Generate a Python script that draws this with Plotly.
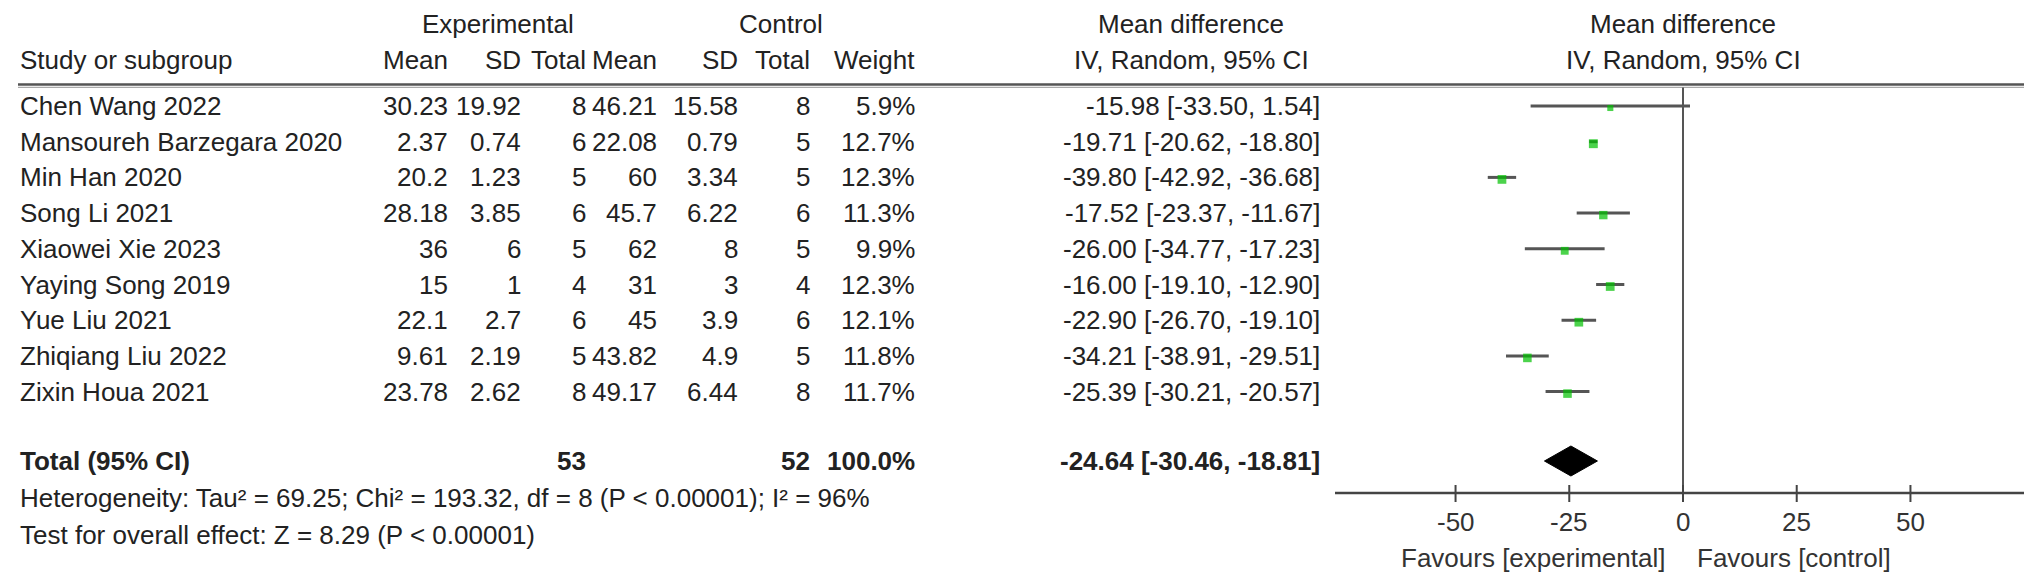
import math
import plotly.graph_objects as go

# ---------------- data ----------------
studies = ["Chen Wang 2022", "Mansoureh Barzegara 2020", "Min Han 2020", "Song Li 2021",
           "Xiaowei Xie 2023", "Yaying Song 2019", "Yue Liu 2021", "Zhiqiang Liu 2022",
           "Zixin Houa 2021"]
exp_mean = [30.23, 2.37, 20.2, 28.18, 36, 15, 22.1, 9.61, 23.78]
exp_sd = [19.92, 0.74, 1.23, 3.85, 6, 1, 2.7, 2.19, 2.62]
exp_n = [8, 6, 5, 6, 5, 4, 6, 5, 8]
ctrl_mean = [46.21, 22.08, 60, 45.7, 62, 31, 45, 43.82, 49.17]
ctrl_sd = [15.58, 0.79, 3.34, 6.22, 8, 3, 3.9, 4.9, 6.44]
ctrl_n = [8, 5, 5, 6, 5, 4, 6, 5, 8]
weight = [5.9, 12.7, 12.3, 11.3, 9.9, 12.3, 12.1, 11.8, 11.7]
md = [-15.98, -19.71, -39.80, -17.52, -26.00, -16.00, -22.90, -34.21, -25.39]
ci_lo = [-33.50, -20.62, -42.92, -23.37, -34.77, -19.10, -26.70, -38.91, -30.21]
ci_hi = [1.54, -18.80, -36.68, -11.67, -17.23, -12.90, -19.10, -29.51, -20.57]

total_exp_n = 53
total_ctrl_n = 52
total_weight = 100.0
total_md = -24.64
total_lo = -30.46
total_hi = -18.81

heterogeneity = "Heterogeneity: Tau² = 69.25; Chi² = 193.32, df = 8 (P < 0.00001); I² = 96%"
overall = "Test for overall effect: Z = 8.29 (P < 0.00001)"
tick_vals = [-50, -25, 0, 25, 50]
favours_left = "Favours [experimental]"
favours_right = "Favours [control]"

# ---------------- layout constants ----------------
W, H = 2032, 581
FONT = "Liberation Sans, Arial, Helvetica, sans-serif"
FS = 26
TXT = "#222222"
LINE = "#555555"
GREEN = "#00c000"

row_y0, row_dy = 98, 35.7
row_y = [row_y0 + i * row_dy for i in range(len(studies))]
total_y = 453
het_y, test_y = 490, 527
axis_y = 485
tick_lab_y, fav_y = 514, 550
hdr1_y, hdr2_y = 16, 52
rule_y = 76.5

x_dom = [1327 / W, 2028 / W]
x_rng = [-76.5, 77.6]
DX = -5  # table columns

def px(x):
    return x / W

fig = go.Figure()

# CI whiskers
xs, ys = [], []
for lo, hi, y in zip(ci_lo, ci_hi, row_y):
    xs += [lo, hi, None]
    ys += [y, y, None]
fig.add_trace(go.Scatter(x=xs, y=ys, mode="lines", line=dict(color=LINE, width=3),
                         hoverinfo="skip", showlegend=False))

# weight squares
fig.add_trace(go.Scatter(x=md, y=[y + 2 for y in row_y], mode="markers",
                         marker=dict(symbol="square", color=GREEN,
                                     size=[2.5 * math.sqrt(w) for w in weight],
                                     line=dict(width=0)),
                         showlegend=False))

# pooled diamond
fig.add_trace(go.Scatter(x=[total_lo, total_md, total_hi, total_md, total_lo],
                         y=[total_y, total_y - 15, total_y, total_y + 15, total_y],
                         mode="lines", fill="toself", fillcolor="black",
                         line=dict(color="black", width=1), showlegend=False))

shapes = []
# header double rule
shapes.append(dict(type="line", xref="paper", yref="y", x0=px(10), x1=px(2030),
                   y0=rule_y, y1=rule_y, line=dict(color="#555555", width=2.5)))
shapes.append(dict(type="line", xref="paper", yref="y", x0=px(10), x1=px(2030),
                   y0=rule_y + 2.8, y1=rule_y + 2.8, line=dict(color="#aaaaaa", width=1.2)))
# zero line
shapes.append(dict(type="line", xref="x", yref="y", x0=0, x1=0, y0=rule_y + 3, y1=axis_y,
                   line=dict(color=LINE, width=2)))
# axis line
shapes.append(dict(type="line", xref="x domain", yref="y", x0=0, x1=1, y0=axis_y, y1=axis_y,
                   line=dict(color="#444444", width=2.5)))
# ticks
for t in tick_vals:
    shapes.append(dict(type="line", xref="x", yref="y", x0=t, x1=t, y0=axis_y - 8,
                       y1=axis_y + 9, line=dict(color="#444444", width=2)))

ann = []
def A(text, x, y, anchor="left", bold=False, color=TXT, xref="paper"):
    if bold:
        text = "<b>" + text + "</b>"
    ann.append(dict(text=text, x=x, y=y, xref=xref, yref="y", xanchor=anchor,
                    yanchor="middle", showarrow=False,
                    font=dict(family=FONT, size=FS, color=color)))

# headers
A("Experimental", px(495 + DX), hdr1_y, "center")
A("Control", px(778 + DX), hdr1_y, "center")
A("Mean difference", px(1188 + DX), hdr1_y, "center")
A("Mean difference", px(1675), hdr1_y, "center")
A("Study or subgroup", px(10), hdr2_y)
col_right = [447, 520, 585, 656, 737, 809, 914, 1319]
col_right = [c + DX for c in col_right]
hdr2 = ["Mean", "SD", "Total", "Mean", "SD", "Total", "Weight", "IV, Random, 95% CI"]
for h, xr in zip(hdr2[:-1], col_right[:-1]):
    A(h, px(xr), hdr2_y, "right")
A(hdr2[-1], px(1188 + DX), hdr2_y, "center")
A("IV, Random, 95% CI", px(1675), hdr2_y, "center")

# study rows
for i, y in enumerate(row_y):
    A(studies[i], px(10), y)
    vals = [str(exp_mean[i]), str(exp_sd[i]), str(exp_n[i]), str(ctrl_mean[i]),
            str(ctrl_sd[i]), str(ctrl_n[i]), f"{weight[i]:.1f}%",
            f"{md[i]:.2f} [{ci_lo[i]:.2f}, {ci_hi[i]:.2f}]"]
    for v, xr in zip(vals, col_right):
        A(v, px(xr), y, "right")

# total row
A("Total (95% CI)", px(10), total_y, bold=True)
A(str(total_exp_n), px(col_right[2]), total_y, "right", bold=True)
A(str(total_ctrl_n), px(col_right[5]), total_y, "right", bold=True)
A(f"{total_weight:.1f}%", px(col_right[6]), total_y, "right", bold=True)
A(f"{total_md:.2f} [{total_lo:.2f}, {total_hi:.2f}]", px(col_right[7]), total_y, "right", bold=True)

A(heterogeneity, px(10), het_y)
A(overall, px(10), test_y)

# tick labels
for t in tick_vals:
    A(str(t), t, tick_lab_y, "center", color="#333333", xref="x")
A(favours_left, px(1659), fav_y, "right", color="#333333")
A(favours_right, px(1687), fav_y, "left", color="#333333")

fig.update_layout(
    width=W, height=H, margin=dict(l=0, r=0, t=0, b=0),
    paper_bgcolor="white", plot_bgcolor="rgba(0,0,0,0)",
    xaxis=dict(domain=x_dom, range=x_rng, visible=False, fixedrange=True),
    yaxis=dict(domain=[0, 1], range=[H, 0], visible=False, fixedrange=True),
    shapes=shapes, annotations=ann, showlegend=False,
)
fig.write_html("out.html")
